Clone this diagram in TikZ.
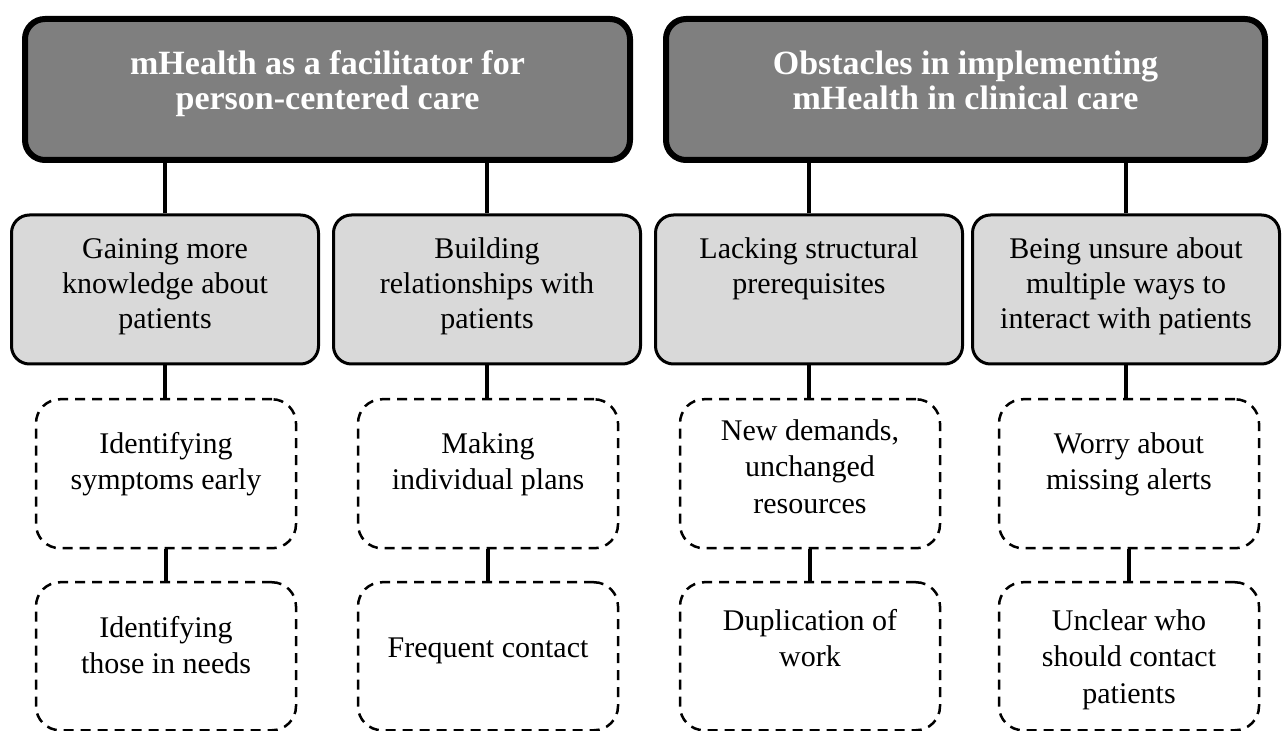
\documentclass[tikz,border=0pt]{standalone}
\usepackage{fontspec}
\setmainfont{Liberation Serif}
\definecolor{topgray}{HTML}{7F7F7F}
\definecolor{midgray}{HTML}{D9D9D9}

\begin{document}
\begin{tikzpicture}[x=0.5pt, y=-0.5pt, line join=round,
    top/.style={draw, line width=3pt, rounded corners=10pt, fill=topgray, text=white,
        font=\fontsize{17}{17.5}\selectfont\bfseries, align=flush center, anchor=north,
        inner sep=0pt, minimum height=0pt, text height=28pt, text depth=42.5pt},
    theme/.style={draw, line width=1.5pt, rounded corners=9pt, fill=midgray,
        font=\fontsize{15}{17.5}\selectfont, align=flush center, anchor=north, text width=153.5pt,
        inner sep=0pt, minimum height=0pt, text height=21.75pt, text depth=52.75pt},
    sub/.style={draw, line width=1.25pt, dash pattern=on 5pt off 3.5pt, rounded corners=12pt,
        font=\fontsize{15}{18.25}\selectfont, align=flush center, anchor=north, text width=130pt,
        inner sep=0pt, minimum height=0pt, text height=27pt, text depth=47.5pt},
    link/.style={line width=1.6pt}]
    \useasboundingbox (0,0) rectangle (1285,731);

    \node[top, text width=302.5pt] (t1) at (327.5,16) {mHealth as a facilitator for\\person-centered care};
    \node[top, text width=299.5pt] (t2) at (965.5,16) {Obstacles in implementing\\mHealth in clinical care};

    \node[theme] (m1) at (165,213.5) {Gaining more\\knowledge about\\patients};
    \node[theme] (m2) at (487,213.5) {Building\\relationships with\\patients};
    \node[theme] (m3) at (809,213.5) {Lacking structural\\prerequisites};
    \node[theme] (m4) at (1126,213.5) {Being unsure about\\multiple ways to\\interact with patients};

    \node[sub] (d1) at (166,398) {Identifying\\symptoms early};
    \node[sub] (d2) at (488,398) {Making\\individual plans};
    \node[sub, text height=20.5pt, text depth=54pt] (d3) at (810,398) {New demands,\\unchanged\\resources};
    \node[sub] (d4) at (1129,398) {Worry about\\missing alerts};

    \node[sub, text height=27.5pt, text depth=46.5pt] (e1) at (166,581) {Identifying\\those in needs};
    \node[sub, text height=37.5pt, text depth=36.5pt] (e2) at (488,581) {Frequent contact};
    \node[sub, text height=24pt, text depth=50pt] (e3) at (810,581) {Duplication of\\work};
    \node[sub, text height=24pt, text depth=50pt] (e4) at (1129,581) {Unclear who\\should contact\\patients};

    \foreach \i/\j in {1/1,2/1,3/2,4/2}
        \draw[link] (m\i.north) -- (m\i.north |- t\j.south);
    \foreach \i in {1,...,4} {
        \draw[link] (m\i.south) -- (m\i.south |- d\i.north);
        \draw[link, line width=1.8pt] (d\i.south) -- (e\i.north);
    }
\end{tikzpicture}
\end{document}
